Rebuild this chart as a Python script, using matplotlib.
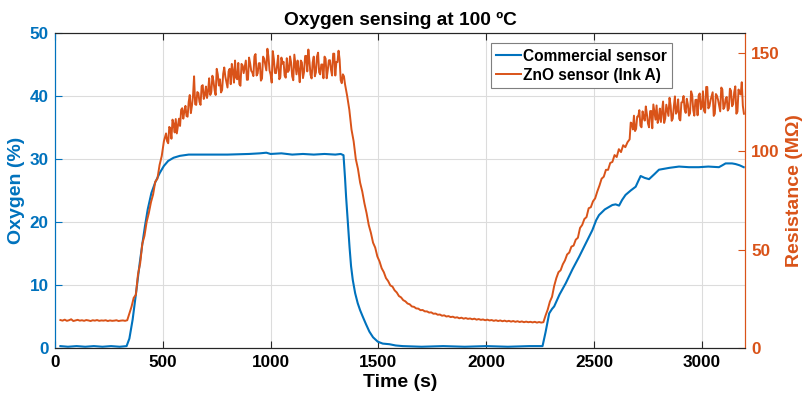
import numpy as np
import matplotlib
matplotlib.use("Agg")
import matplotlib.pyplot as plt

plt.rcParams['font.family'] = ['Liberation Sans', 'DejaVu Sans']
plt.rcParams['font.weight'] = 'bold'

BLUE = '#0072BD'
ORANGE = '#D95319'

# Commercial oxygen sensor reading (time in s, oxygen in %)
o2_time = [25, 60, 100, 140, 180, 220, 260, 300, 332, 345, 360, 375, 393, 405, 417,
           430, 447, 465, 486, 505, 525, 550, 579, 620, 700, 800, 900, 950, 980,
           1000, 1050, 1100, 1150, 1200, 1250, 1300, 1325, 1338, 1345, 1350, 1358,
           1366, 1373, 1381, 1392, 1404, 1415, 1427, 1442, 1458, 1475, 1497, 1520,
           1551, 1580, 1613, 1700, 1800, 1900, 2000, 2100, 2200, 2261, 2275, 2292,
           2305, 2315, 2340, 2369, 2400, 2431, 2460, 2492, 2510, 2523, 2550, 2585,
           2600, 2616, 2630, 2646, 2670, 2693, 2705, 2716, 2735, 2755, 2780, 2801,
           2850, 2894, 2940, 2986, 3030, 3079, 3095, 3110, 3140, 3156, 3175, 3194]
o2_value = [0.3, 0.2, 0.3, 0.2, 0.3, 0.2, 0.3, 0.2, 0.3, 1.5, 4.5, 8.5, 13.5, 16.5, 19.3,
            22.0, 24.6, 26.3, 27.8, 28.9, 29.7, 30.2, 30.5, 30.7, 30.7, 30.7, 30.8, 30.9, 31.0,
            30.8, 30.9, 30.7, 30.8, 30.7, 30.8, 30.7, 30.8, 30.6, 27.0, 24.0, 20.0,
            16.0, 13.0, 10.8, 8.7, 7.1, 6.0, 5.0, 3.8, 2.6, 1.7, 1.0, 0.7,
            0.6, 0.4, 0.3, 0.2, 0.3, 0.2, 0.3, 0.2, 0.3, 0.3, 2.5, 5.5,
            6.2, 6.6, 8.5, 10.3, 12.5, 14.5, 16.5, 18.7, 20.3, 21.1, 22.0, 22.7,
            22.8, 22.6, 23.5, 24.3, 25.0, 25.6, 26.5, 27.3, 27.0, 26.8, 27.6, 28.3,
            28.6, 28.8, 28.7, 28.7, 28.8, 28.7, 29.0, 29.3, 29.3, 29.2, 29.0, 28.7]

# ZnO sensor resistance (MOhm), sampled every 10 s; each segment lists its start time
res_base_start = 25
res_base = [14.2, 13.9, 14.4, 13.8, 14.1, 14.6, 13.7, 14.0, 14.3, 13.9, 14.1, 13.8,
            14.2, 14.0, 13.7, 14.1, 13.9, 14.2, 13.8, 14.0, 13.9, 14.1, 13.7, 14.0,
            13.8, 13.9, 14.1, 13.7, 13.9, 14.0, 13.8, 14.1]
res_rise1_start = 345
res_rise1 = [17.5, 21.0, 25.5, 27.0, 37.5, 43.0, 53.0, 57.0, 64.0, 68.5, 74.0, 78.0,
             84.5, 86.0, 93.0, 97.5, 105.0]
res_high_start = 515
res_high = [109, 104, 111.5, 116, 109.5, 109, 116.5, 121, 116.5, 123, 117.5, 128.5,
            123, 138, 123.5, 129.5, 123.5, 133.5, 128.5, 127, 137, 130, 135.5, 128.5,
            139, 136.5, 131, 142.5, 135, 140.5, 134, 140.5, 146, 136.5, 134, 144.3,
            139.6, 146, 136.3, 144.6, 140, 148.2, 138.4, 144.6, 135.8, 148, 144, 152,
            141, 134.8, 146.7, 139.6, 148.5, 137.5, 144.4, 138.3, 147.2, 141.1, 145, 136,
            144, 146, 135, 145, 140.2, 148.4, 151.6, 138.8, 145, 138, 148, 140,
            144, 137, 147, 141, 146.2, 138.4, 149.5, 145.3, 151, 136, 139]
# samples half-way between the ones above (520 s ... 1340 s)
res_high_mid_start = 520
res_high_mid = [105, 112.3, 106.3, 113.8, 116.3, 112.8, 112.8, 121.8, 120.3, 117.8,
                125, 119.3, 128, 123.8, 130, 125, 133, 126.5, 132.8, 130.5,
                128.5, 138.3, 131, 141.8, 133.3, 129.8, 139.3, 137.8, 132.3, 141.8,
                144.3, 134.8, 137.3, 144.8, 133.2, 143.5, 142.8, 136.2, 147.5, 140.8,
                138.1, 149.3, 139.5, 144.7, 136.9, 147, 141, 148, 138.9, 150.8,
                139.7, 143.6, 136.5, 147.5, 145.4, 137.3, 140.2, 148.1, 138, 149,
                139, 141, 146, 137.1, 148.3, 140.5, 145.7, 136.9, 148, 140,
                150, 139, 144, 148, 137, 146.1, 141.3, 149.5, 138.4, 145.2,
                146.5, 134.5, 138]
res_fall_start = 1345
res_fall = [134, 128, 121, 111, 105, 96, 91, 84, 79.5, 73.5, 68.5, 62.5, 58.5, 53.5,
            51, 46.5, 44, 40.5, 38.5, 35.5, 34, 31.8, 31.2, 29.3, 28.2, 26.4, 25.7,
            24.3, 23.7, 22.6, 22.2, 21.1, 20.9, 20.1, 20.0, 19.2, 19.3, 18.6, 18.6,
            18.0, 18.1, 17.4, 17.5, 16.9, 17.0, 16.4, 16.6, 16.0, 16.2, 15.7, 15.9,
            15.4, 15.6, 15.1, 15.4, 14.9, 15.2, 14.8, 15.0, 14.6, 14.9, 14.4, 14.7,
            14.3, 14.5, 14.1, 14.4, 14.0, 14.2, 13.8, 14.1, 13.7, 14.0, 13.6, 13.9,
            13.5, 13.8, 13.4, 13.7, 13.3, 13.6, 13.2, 13.5, 13.1, 13.4, 13.1, 13.3,
            13.0, 13.3, 12.9, 13.2, 12.9, 13.1]
res_rise2_start = 2275
res_rise2 = [16.5, 19.5, 23.5, 26.0, 31.5, 35.5, 38.5, 39.5, 42.5, 44.5, 47.5, 48.5,
             51.5, 52.0, 55.0, 56.0, 61.0, 62.5, 65.5, 66.5, 71.0, 71.5, 74.5, 76.0,
             79.5, 82.5, 86.0, 87.0, 90.5, 90.5, 94.0, 94.5, 98.0, 97.0, 101.0, 99.5,
             103.0, 102.0, 104.5]
res_end_start = 2665
res_end = [106, 114, 118, 111.3, 117.6, 112.9, 120.2, 115.5, 118.8, 112.1, 120.4, 123.7,
           116, 114.3, 121.6, 120, 114.3, 123.6, 117.9, 123.2, 116.5, 127.8, 120.1, 116.4,
           124.7, 128, 119.4, 123.8, 119.2, 128.6, 118, 126.1, 128.2, 121.3, 130.4, 119.5,
           132.6, 122.7, 127.8, 117.9, 129, 126.1, 120.2, 131.3, 122.4, 127.5, 121.6, 130.7,
           123.8, 132.9, 120, 129.5, 135, 119]
# samples half-way between the ones above (2670 s ... 3190 s)
res_end_mid_start = 2670
res_end_mid = [114.5, 111, 110.2, 117.5, 120.8, 112.1, 117.4, 122.7, 114, 120.3,
               111.6, 119.9, 123.2, 116.5, 114.8, 125.2, 116.5, 120.8, 127.1, 115.4,
               122.7, 119, 126.3, 115.6, 124.9, 121.2, 126.6, 118, 130.4, 120.8,
               126, 118.2, 129.3, 122.4, 120.5, 132.6, 121.7, 125.8, 129.9, 119,
               128.1, 123.2, 132.3, 121.4, 126.5, 120.6, 131.7, 122.8, 129.9, 119,
               131.3, 128.8, 123]

segments = [(res_base_start, res_base), (res_rise1_start, res_rise1),
            (res_high_start, res_high), (res_high_mid_start, res_high_mid),
            (res_fall_start, res_fall), (res_rise2_start, res_rise2),
            (res_end_start, res_end), (res_end_mid_start, res_end_mid)]
res_time = np.concatenate([s + 10 * np.arange(len(v)) for s, v in segments])
res_value = np.concatenate([np.asarray(v, float) for _, v in segments])
order = np.argsort(res_time, kind='stable')
res_time, res_value = res_time[order], res_value[order]

x_ticks = [0, 500, 1000, 1500, 2000, 2500, 3000]
o2_ticks = [0, 10, 20, 30, 40, 50]
res_ticks = [0, 50, 100, 150]

fig = plt.figure(figsize=(8.06, 4.0), dpi=100)
ax = fig.add_axes([55 / 806, 52 / 400, 690 / 806, 315 / 400])
ax2 = ax.twinx()

l1, = ax.plot(o2_time, o2_value, color=BLUE, lw=1.5, label='Commercial sensor')
l2, = ax2.plot(res_time, res_value, color=ORANGE, lw=1.4, label='ZnO sensor (Ink A)')

ax.set_xlim(0, 3200)
ax.set_ylim(0, 50)
ax2.set_ylim(0, 160)
ax.set_xticks(x_ticks)
ax.set_yticks(o2_ticks)
ax2.set_yticks(res_ticks)

ax.grid(True, color='#dcdcdc', lw=0.8)
ax.set_axisbelow(True)

tick_fs = 12.3
ax.tick_params(axis='x', direction='in', length=5, width=0.8, colors='#262626',
               labelsize=tick_fs, top=True, pad=5)
ax.tick_params(axis='y', direction='in', length=5, width=0.8, colors=BLUE,
               labelsize=tick_fs, pad=4.5)
ax2.tick_params(axis='y', direction='in', length=5, width=0.8, colors=ORANGE,
                labelsize=tick_fs, pad=4.5)
for t in ax.get_xticklabels():
    t.set_color('black')

for a in (ax, ax2):
    a.spines['top'].set_color('#262626')
    a.spines['bottom'].set_color('#262626')
    a.spines['left'].set_color(BLUE)
    a.spines['right'].set_color(ORANGE)
    for s in a.spines.values():
        s.set_linewidth(0.8)

ax.set_xlabel('Time (s)', fontsize=14, fontweight='bold', labelpad=3)
ax.set_ylabel('Oxygen (%)', fontsize=14, fontweight='bold', color=BLUE, labelpad=3)
ax2.set_ylabel('Resistance (MΩ)', fontsize=14, fontweight='bold', color=ORANGE, labelpad=4)
ax.set_title('Oxygen sensing at 100 ºC', fontsize=13.8, fontweight='bold', pad=6)

leg = ax2.legend(handles=[l1, l2], loc='upper right', bbox_to_anchor=(0.894, 0.967),
                 fontsize=11.2, frameon=True, fancybox=False, framealpha=1,
                 edgecolor='#7f7f7f', handlelength=1.6, handletextpad=0.1,
                 borderpad=0.35, labelspacing=0.25, borderaxespad=0)
leg.get_frame().set_linewidth(0.8)

fig.savefig('out.png', dpi=100)
